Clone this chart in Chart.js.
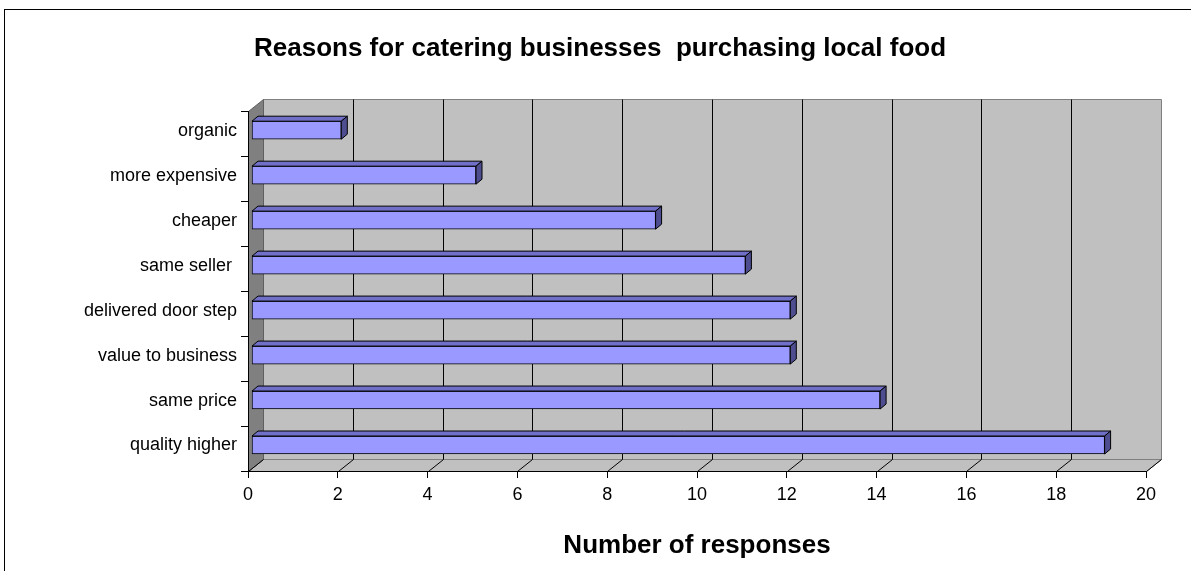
<!DOCTYPE html>
<html>
<head>
<meta charset="utf-8">
<title>Reasons for catering businesses purchasing local food</title>
<script src="https://cdn.jsdelivr.net/npm/chart.js@4.4.1/dist/chart.umd.min.js"></script>
<style>
    body { margin: 0; background: #fff; }
    canvas { display: block; }
</style>
</head>
<body>
<canvas id="myChart" width="1191" height="571"></canvas>
<script>
const reasons = ['organic', 'more expensive', 'cheaper', 'same seller ', 'delivered door step', 'value to business', 'same price', 'quality higher'];
const responses = [2, 5, 9, 11, 12, 12, 14, 19];
const responseTicks = [0, 2, 4, 6, 8, 10, 12, 14, 16, 18, 20];

// depth of the walls and of the bars (pixels)
const WALL_DX = 15, WALL_DY = 12;
const BAR_SHIFT_X = 3.5, BAR_SHIFT_Y = 3.5;
const BAR_DX = 6, BAR_DY = 5;

const FONT = 'Arial, "Liberation Sans", sans-serif';

const depth3d = {
    id: 'depth3d',
    beforeDraw(chart) {
        const { ctx, chartArea: a, scales: { x } } = chart;
        const top = Math.round(a.top) + 0.5;
        const bottom = Math.round(a.bottom) + 0.5;
        const left = Math.round(a.left) + 0.5;
        const right = Math.round(a.right) + 0.5;

        ctx.save();
        ctx.fillStyle = '#fff';
        ctx.fillRect(0, 0, chart.width, chart.height);

        // outer frame
        ctx.strokeStyle = '#000';
        ctx.lineWidth = 1;
        ctx.strokeRect(4.5, 9.5, chart.width + 10, chart.height + 10);

        // back wall
        ctx.fillStyle = '#c0c0c0';
        ctx.strokeStyle = '#808080';
        ctx.beginPath();
        ctx.rect(left + WALL_DX, top - WALL_DY, right - left, bottom - top);
        ctx.fill();
        ctx.stroke();

        // floor
        ctx.beginPath();
        ctx.moveTo(left, bottom);
        ctx.lineTo(left + WALL_DX, bottom - WALL_DY);
        ctx.lineTo(right + WALL_DX, bottom - WALL_DY);
        ctx.lineTo(right, bottom);
        ctx.closePath();
        ctx.fill();
        ctx.stroke();

        // left wall
        ctx.fillStyle = '#808080';
        ctx.beginPath();
        ctx.moveTo(left, top);
        ctx.lineTo(left + WALL_DX, top - WALL_DY);
        ctx.lineTo(left + WALL_DX, bottom - WALL_DY);
        ctx.lineTo(left, bottom);
        ctx.closePath();
        ctx.fill();
        ctx.strokeStyle = '#606060';
        ctx.stroke();

        // gridlines on the back wall and across the floor
        ctx.strokeStyle = '#000';
        responseTicks.forEach(v => {
            const px = Math.round(x.getPixelForValue(v)) + 0.5;
            ctx.beginPath();
            if (v > 0 && v < 20) {
                ctx.moveTo(px + WALL_DX, top - WALL_DY);
                ctx.lineTo(px + WALL_DX, bottom - WALL_DY);
            }
            ctx.moveTo(px + WALL_DX, bottom - WALL_DY);
            ctx.lineTo(px, bottom);
            ctx.stroke();
        });
        ctx.restore();
    },
    beforeDatasetsDraw(chart) {
        chart.ctx.save();
        chart.ctx.translate(BAR_SHIFT_X, -BAR_SHIFT_Y);
    },
    afterDatasetsDraw(chart) {
        const ctx = chart.ctx;
        ctx.lineWidth = 1;
        ctx.strokeStyle = '#000';
        chart.getDatasetMeta(0).data.forEach(bar => {
            const { x, y, base, height } = bar.getProps(['x', 'y', 'base', 'height'], true);
            const t = y - height / 2;
            const b = y + height / 2;
            // top face
            ctx.fillStyle = '#7070c8';
            ctx.beginPath();
            ctx.moveTo(base, t);
            ctx.lineTo(base + BAR_DX, t - BAR_DY);
            ctx.lineTo(x + BAR_DX, t - BAR_DY);
            ctx.lineTo(x, t);
            ctx.closePath();
            ctx.fill();
            ctx.stroke();
            // end face
            ctx.fillStyle = '#4d4d90';
            ctx.beginPath();
            ctx.moveTo(x, t);
            ctx.lineTo(x + BAR_DX, t - BAR_DY);
            ctx.lineTo(x + BAR_DX, b - BAR_DY);
            ctx.lineTo(x, b);
            ctx.closePath();
            ctx.fill();
            ctx.stroke();
        });
        ctx.restore();
    }
};

const ctx = document.getElementById('myChart').getContext('2d');
new Chart(ctx, {
    type: 'bar',
    data: {
        labels: reasons,
        datasets: [{
            label: 'Number of responses',
            data: responses,
            backgroundColor: '#9999ff',
            borderColor: '#000',
            borderWidth: 1,
            borderSkipped: false,
            barThickness: 18
        }]
    },
    options: {
        indexAxis: 'y',
        responsive: false,
        animation: false,
        devicePixelRatio: 1,
        // uneven side padding keeps the title centred over the whole frame
        layout: { padding: { left: 54, right: 45, top: 0, bottom: 0 } },
        plugins: {
            legend: { display: false },
            tooltip: { enabled: false },
            title: {
                display: true,
                text: 'Reasons for catering businesses  purchasing local food',
                color: '#000',
                font: { family: FONT, size: 26, weight: 'bold', lineHeight: 1.2 },
                padding: { top: 33, bottom: 47 }
            }
        },
        scales: {
            x: {
                min: 0,
                max: 20,
                afterBuildTicks: scale => { scale.ticks = responseTicks.map(v => ({ value: v })); },
                afterFit: scale => { scale.height = 100; },
                grid: { drawOnChartArea: false, color: '#000', tickLength: 7 },
                border: { color: '#000' },
                ticks: { color: '#000', padding: 6, font: { family: FONT, size: 18 } },
                title: {
                    display: true,
                    text: 'Number of responses',
                    color: '#000',
                    font: { family: FONT, size: 26, weight: 'bold', lineHeight: 1.2 },
                    padding: { top: 0, bottom: 10 }
                }
            },
            y: {
                afterFit: scale => { scale.width = 194; },
                grid: { drawOnChartArea: false, color: '#000', tickLength: 7 },
                border: { color: '#000' },
                ticks: { color: '#000', padding: 4, labelOffset: -3, font: { family: FONT, size: 18 } }
            }
        }
    },
    plugins: [depth3d]
});
</script>
</body>
</html>
